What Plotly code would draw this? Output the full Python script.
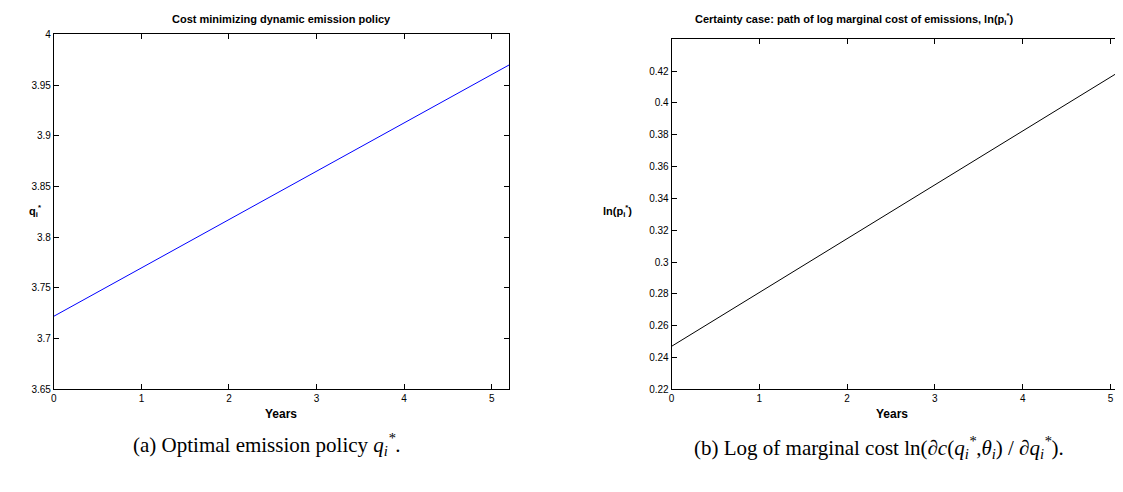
import plotly.graph_objects as go

years = [0, 5.2]
q_star = [3.722, 3.970]
ln_p_star = [0.247, 0.423]

left_ticks_y = [3.65, 3.7, 3.75, 3.8, 3.85, 3.9, 3.95, 4]
left_tick_text = ['3.65', '3.7', '3.75', '3.8', '3.85', '3.9', '3.95', '4']
right_ticks_y = [0.22, 0.24, 0.26, 0.28, 0.3, 0.32, 0.34, 0.36, 0.38, 0.4, 0.42]
right_tick_text = ['0.22', '0.24', '0.26', '0.28', '0.3', '0.32', '0.34', '0.36', '0.38', '0.4', '0.42']
x_ticks = [0, 1, 2, 3, 4, 5]

W, H = 1114, 482
OX, OY = 9, 10  # page offset of the plot in the browser


def px_x(v):
    return (v - OX) / W


def px_y(v):
    return 1 - (v - OY) / H


fig = go.Figure()
fig.add_trace(go.Scatter(x=years, y=q_star, mode='lines', line=dict(color='blue', width=1),
                         xaxis='x', yaxis='y', showlegend=False))
fig.add_trace(go.Scatter(x=years, y=ln_p_star, mode='lines', line=dict(color='black', width=1),
                         xaxis='x2', yaxis='y2', showlegend=False))

axis_style = dict(showgrid=False, zeroline=False, showline=True, linecolor='black', linewidth=1,
                  mirror='ticks', ticks='inside', ticklen=5, tickcolor='black',
                  tickfont=dict(family='Liberation Sans, Arial', size=10, color='black'))

fig.update_layout(
    width=W, height=H, margin=dict(l=0, r=0, t=0, b=0),
    plot_bgcolor='white', paper_bgcolor='white',
    xaxis=dict(domain=[px_x(52), px_x(509)], range=[0, 5.2], tickvals=x_ticks, **axis_style),
    yaxis=dict(domain=[px_y(395), px_y(32)], range=[3.65, 4], tickvals=left_ticks_y,
               ticktext=left_tick_text, **axis_style),
    xaxis2=dict(domain=[px_x(672), 1.0], range=[0, 5.2 * (1123 - 672) / (1130 - 672)],
                tickvals=x_ticks, anchor='y2', **axis_style),
    yaxis2=dict(domain=[px_y(395), px_y(37)], range=[0.22, 0.44], tickvals=right_ticks_y,
                ticktext=right_tick_text, anchor='x2', **axis_style),
)

bold = dict(family='Liberation Sans, Arial', size=11, color='black')
serif = dict(family='Liberation Serif, DejaVu Serif', size=21, color='black')
annotations = [
    dict(text='<b>Cost minimizing dynamic emission policy</b>', x=280, y=16, font=bold),
    dict(text='<b>Certainty case: path of log marginal cost of emissions, ln(p<sub>i</sub><sup>*</sup>)</b>',
         x=855, y=16, font=bold),
    dict(text='<b>Years</b>', x=280, y=420, font=dict(family='Liberation Sans, Arial', size=12, color='black')),
    dict(text='<b>Years</b>', x=893, y=420, font=dict(family='Liberation Sans, Arial', size=12, color='black')),
    dict(text='<b>q<sub>i</sub><sup>*</sup></b>', x=33, y=213, font=bold),
    dict(text='<b>ln(p<sub>i</sub><sup>*</sup>)</b>', x=618, y=213, font=bold),
    dict(text='(a) Optimal emission policy <i>q<sub>i</sub><sup>*</sup></i>.', x=265, y=452, font=serif),
    dict(text='(b) Log of marginal cost ln(∂<i>c</i>(<i>q<sub>i</sub><sup>*</sup></i>,<i>θ<sub>i</sub></i>) / ∂<i>q<sub>i</sub><sup>*</sup></i>).',
         x=880, y=455, font=serif),
]
for a in annotations:
    fig.add_annotation(text=a['text'], x=px_x(a['x']), y=px_y(a['y']), xref='paper', yref='paper',
                       showarrow=False, font=a['font'], xanchor='center', yanchor='middle')

fig.write_html("out.html")
